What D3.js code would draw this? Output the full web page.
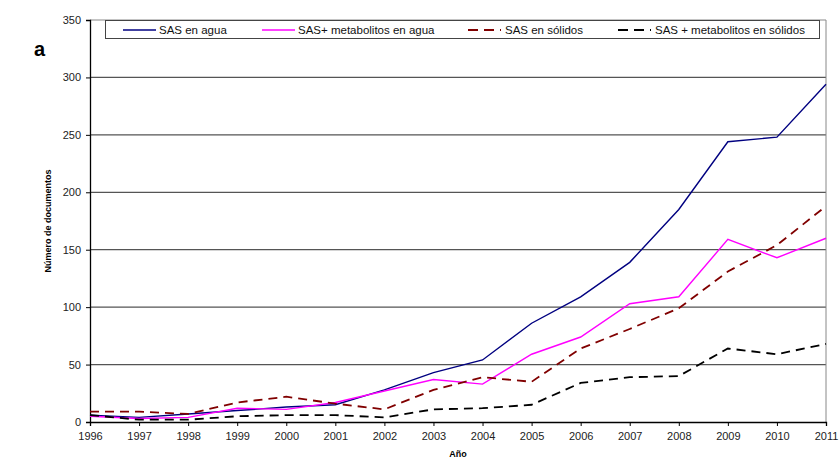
<!DOCTYPE html>
<html>
<head>
<meta charset="utf-8">
<script src="https://cdn.jsdelivr.net/npm/d3@7"></script>
<style>
  html, body { margin: 0; padding: 0; background: #fff; }
  svg { display: block; font-family: "Liberation Sans", Arial, sans-serif; }
</style>
</head>
<body>
<svg id="chart" width="840" height="461"></svg>
<script>
// Publicaciones por año
const years = [1996, 1997, 1998, 1999, 2000, 2001, 2002, 2003, 2004, 2005, 2006, 2007, 2008, 2009, 2010, 2011];
const sasAgua = [6, 4, 7, 10, 13, 15, 28, 43, 54, 86, 109, 139, 185, 244, 248, 294];
const sasMetAgua = [5, 3, 4, 12, 11, 17, 27, 37, 33, 59, 74, 103, 109, 159, 143, 160];
const sasSolidos = [9, 9, 7, 17, 22, 16, 11, 28, 39, 35, 64, 81, 99, 131, 154, 188];
const sasMetSolidos = [6, 2, 2, 5, 6, 6, 4, 11, 12, 15, 34, 39, 40, 64, 59, 68];
const seriesNames = ["SAS en agua", "SAS+ metabolitos en agua", "SAS en sólidos", "SAS + metabolitos en sólidos"];
const yTicks = [0, 50, 100, 150, 200, 250, 300, 350];

const series = [
  { name: seriesNames[0], values: sasAgua, color: "#000080", dash: null },
  { name: seriesNames[1], values: sasMetAgua, color: "#ff00ff", dash: null },
  { name: seriesNames[2], values: sasSolidos, color: "#800000", dash: "9,6" },
  { name: seriesNames[3], values: sasMetSolidos, color: "#000000", dash: "9,6" }
];

const svg = d3.select("#chart");
const m = { left: 90, right: 826, top: 20, bottom: 422 };

const x = d3.scaleLinear().domain([years[0], years[years.length - 1]]).range([m.left, m.right]);
const y = d3.scaleLinear().domain([0, 350]).range([m.bottom, m.top]);

// gridlines
svg.append("g")
  .selectAll("line")
  .data(yTicks.filter(d => d > 0 && d < 350))
  .join("line")
  .attr("x1", m.left).attr("x2", m.right)
  .attr("y1", d => y(d)).attr("y2", d => y(d))
  .attr("stroke", "#555").attr("stroke-width", 1.2);

// frame on top and right
svg.append("path")
  .attr("d", `M${m.left},${m.top}H${m.right}V${m.bottom}`)
  .attr("fill", "none").attr("stroke", "#888").attr("stroke-width", 1);

// axes
const yAxis = svg.append("g")
  .attr("transform", `translate(${m.left},0)`)
  .call(d3.axisLeft(y).tickValues(yTicks).tickSize(4).tickPadding(5));
const xAxis = svg.append("g")
  .attr("transform", `translate(0,${m.bottom})`)
  .call(d3.axisBottom(x).tickValues(years).tickFormat(d3.format("d")).tickSize(4).tickPadding(6));
[yAxis, xAxis].forEach(g => {
  g.select(".domain").attr("stroke", "#000").attr("stroke-width", 1.3);
  g.selectAll(".tick line").attr("stroke", "#000");
  g.selectAll(".tick text").attr("fill", "#222").style("font-size", "11px")
    .style("font-family", "'Liberation Sans', Arial, sans-serif");
});

// series lines
const line = d3.line().x((d, i) => x(years[i])).y(d => y(d));
svg.append("g")
  .selectAll("path")
  .data(series)
  .join("path")
  .attr("d", d => line(d.values))
  .attr("fill", "none")
  .attr("stroke", d => d.color)
  .attr("stroke-width", d => d.dash ? 1.8 : 1.4)
  .attr("stroke-dasharray", d => d.dash);

// legend
const legend = svg.append("g");
legend.append("rect")
  .attr("x", 105.5).attr("y", 20.5).attr("width", 714).attr("height", 18)
  .attr("fill", "#fff").attr("stroke", "#444").attr("stroke-width", 1);
const legendX = [123, 262, 468, 618];
const item = legend.selectAll("g.item")
  .data(series)
  .join("g")
  .attr("class", "item")
  .attr("transform", (d, i) => `translate(${legendX[i]},30)`);
item.append("line")
  .attr("x1", 0).attr("x2", 33).attr("y1", 0).attr("y2", 0)
  .attr("stroke", d => d.color)
  .attr("stroke-width", d => d.dash ? 1.8 : 1.4)
  .attr("stroke-dasharray", d => d.dash ? "10,6" : null);
item.append("text")
  .attr("x", (d, i) => i >= 2 ? 37 : 36).attr("y", 4)
  .style("font-size", "11.5px").attr("fill", "#111")
  .text(d => d.name);

// titles
svg.append("text")
  .attr("transform", `translate(51,${(m.top + m.bottom) / 2}) rotate(-90)`)
  .attr("text-anchor", "middle")
  .style("font-size", "9px").style("font-weight", "bold")
  .text("Número de documentos");
svg.append("text")
  .attr("x", 458).attr("y", 457)
  .attr("text-anchor", "middle")
  .style("font-size", "9px").style("font-weight", "bold")
  .text("Año");
svg.append("text")
  .attr("x", 34).attr("y", 56)
  .style("font-size", "20px").style("font-weight", "bold")
  .style("font-family", "'Liberation Sans', Arial, sans-serif")
  .text("a");
</script>
</body>
</html>
